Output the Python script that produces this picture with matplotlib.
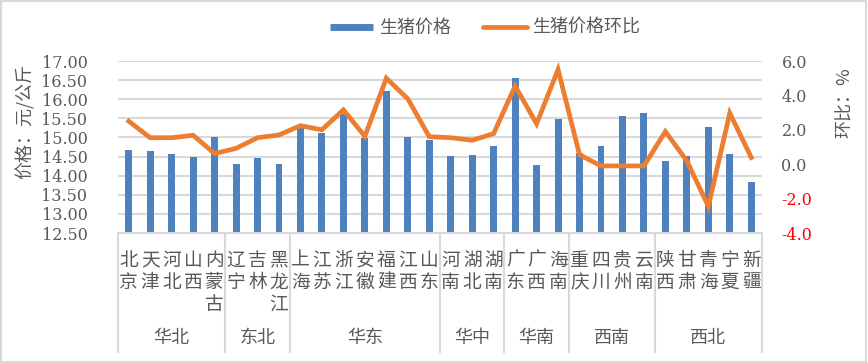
import numpy as np
import matplotlib.pyplot as plt
from matplotlib.lines import Line2D

plt.rcParams['axes.unicode_minus'] = False

provinces = ['北京', '天津', '河北', '山西', '内蒙古', '辽宁', '吉林', '黑龙江',
             '上海', '江苏', '浙江', '安徽', '福建', '江西', '山东',
             '河南', '湖北', '湖南', '广东', '广西', '海南',
             '重庆', '四川', '贵州', '云南', '陕西', '甘肃', '青海', '宁夏', '新疆']
regions = ['华北', '东北', '华东', '华中', '华南', '西南', '西北']
region_sizes = [5, 3, 7, 3, 3, 4, 5]

prices = [14.68, 14.65, 14.57, 14.49, 15.01, 14.31, 14.46, 14.31,
          15.27, 15.11, 15.61, 14.98, 16.21, 15.01, 14.94,
          14.51, 14.54, 14.78, 16.55, 14.28, 15.48,
          14.58, 14.78, 15.56, 15.64, 14.38, 14.51, 15.27, 14.57, 13.84]
mom = [2.5, 1.54, 1.54, 1.68, 0.62, 0.92, 1.54, 1.7,
       2.24, 2.0, 3.16, 1.62, 5.0, 3.8, 1.6,
       1.54, 1.39, 1.78, 4.55, 2.35, 5.5,
       0.55, -0.1, -0.1, -0.1, 1.9, 0.19, -2.45, 2.97, 0.39]

BLUE = '#4F81BD'
ORANGE = '#ED7D31'
GRID = '#D9D9D9'
TXT = '#595959'
cjk = ['Noto Sans CJK SC', 'DejaVu Sans']
num = 'DejaVu Serif'

fig = plt.figure(figsize=(8.68, 3.63), dpi=100)
fig.patches.append(plt.Rectangle((0.001, 0.002), 0.997, 0.995, transform=fig.transFigure,
                                 fill=False, edgecolor=GRID, lw=1.5))
ax = fig.add_axes([118 / 868, 1 - 233 / 363, 644 / 868, 172 / 363])
ax2 = ax.twinx()

x = np.arange(len(provinces))
ax.bar(x, prices, width=0.32, color=BLUE, zorder=2)
ax.set_xlim(-0.5, len(provinces) - 0.5)
ax.set_ylim(12.5, 17.0)
ax.set_yticks(np.arange(12.5, 17.01, 0.5))
ax.set_yticklabels([f'{v:.2f}' for v in np.arange(12.5, 17.01, 0.5)],
                   fontfamily=num, fontsize=11.5, color=TXT)
ax.yaxis.grid(True, color=GRID, lw=1.5, zorder=0)
ax.set_axisbelow(True)
ax.tick_params(axis='y', length=0, pad=22)
ax.set_xticks([])
for s in ['left', 'right', 'top']:
    ax.spines[s].set_visible(False)
ax.spines['bottom'].set_color(GRID)
ax.spines['bottom'].set_linewidth(1.5)

ax2.plot(x, mom, color=ORANGE, lw=3.4, solid_joinstyle='miter', zorder=3)
ax2.set_ylim(-4, 6)
ax2.set_yticks(np.arange(-4, 6.1, 2))
ax2.set_yticklabels([f'{v:.1f}' for v in np.arange(-4, 6.1, 2)],
                    fontfamily=num, fontsize=11.5)
for lbl, v in zip(ax2.get_yticklabels(), np.arange(-4, 6.1, 2)):
    lbl.set_color('red' if v < 0 else TXT)
ax2.tick_params(axis='y', length=0, pad=14)
for s in ['left', 'right', 'top', 'bottom']:
    ax2.spines[s].set_visible(False)

# category labels
tr = ax.get_xaxis_transform()
for i, name in enumerate(provinces):
    ax.annotate('\n'.join(name), xy=(i, 0), xycoords=tr, xytext=(0, -12),
                textcoords='offset points', ha='center', va='top',
                fontfamily=cjk, fontsize=13.5, color=TXT, linespacing=1.08)

bounds = np.concatenate([[0], np.cumsum(region_sizes)]) - 0.5
for b in bounds:
    ax.plot([b, b], [0, -0.69], transform=tr, color=GRID, lw=1.5, clip_on=False)
for r, a, b in zip(regions, bounds[:-1], bounds[1:]):
    ax.annotate(r, xy=((a + b) / 2, 0), xycoords=tr, xytext=(0, -75.5),
                textcoords='offset points', ha='center', va='center',
                fontfamily=cjk, fontsize=13, color=TXT)

fig.text(25 / 868, 1 - 121 / 363, '价格：元/公斤', rotation=90, ha='center', va='center',
         fontfamily=cjk, fontsize=13, color=TXT)
fig.text(845 / 868, 1 - 103 / 363, '环比：%', rotation=90, ha='center', va='center',
         fontfamily=cjk, fontsize=13, color=TXT)

handles = [Line2D([], [], color=BLUE, lw=5, solid_capstyle='butt'),
           Line2D([], [], color=ORANGE, lw=3.4, solid_capstyle='round')]
fig.legend(handles, ['生猪价格', '生猪价格环比'], loc='center', ncol=2,
           bbox_to_anchor=(485 / 868, 1 - 28 / 363), frameon=False,
           prop={'family': cjk, 'size': 13}, labelcolor=TXT,
           handlelength=2.4, handletextpad=0.3, columnspacing=1.8)

fig.savefig('out.png', dpi=100)
